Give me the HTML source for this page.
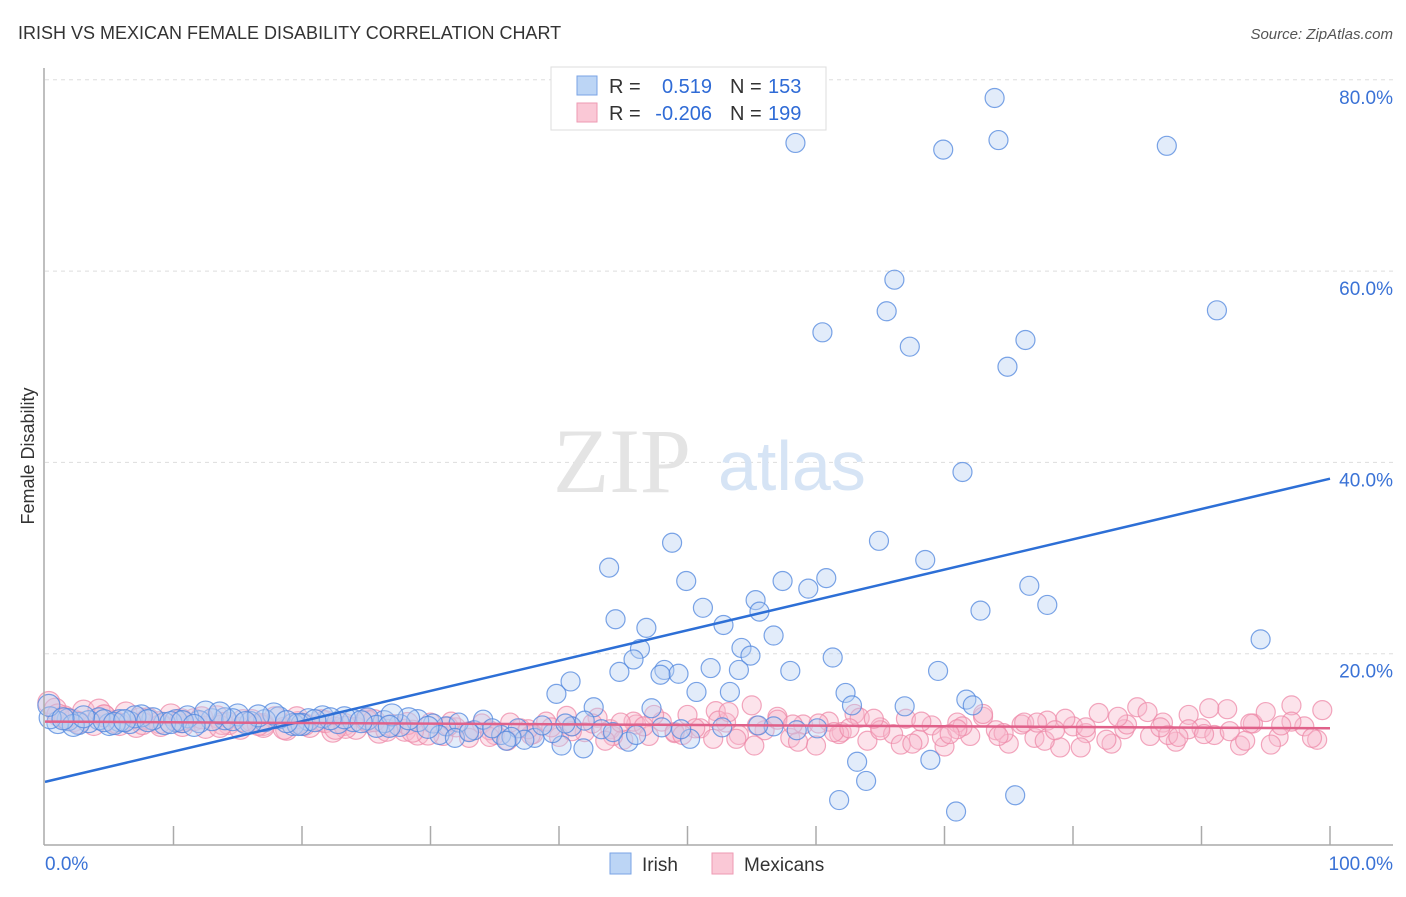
<!DOCTYPE html>
<html><head><meta charset="utf-8"><style>
body{margin:0;background:#fff;font-family:"Liberation Sans",sans-serif}
svg text{font-family:"Liberation Sans",sans-serif}
</style></head><body>
<svg id="c" width="1406" height="892">
<text x="18" y="39" font-size="18" fill="#333">IRISH VS MEXICAN FEMALE DISABILITY CORRELATION CHART</text>
<text x="1393" y="39" font-size="15" fill="#555" text-anchor="end" font-style="italic">Source: ZipAtlas.com</text>
<g id="grid"></g>
<text x="553" y="492" font-size="92" fill="#e4e4e4" style="font-family:'Liberation Serif',serif">ZIP</text>
<text x="718" y="490" font-size="70" fill="#d6e4f5">atlas</text>
<g id="pts"></g>
<g id="axes"></g>
<text x="34" y="456" font-size="18" fill="#333" transform="rotate(-90 34 456)" text-anchor="middle">Female Disability</text>
<g>
<rect x="551" y="67" width="275" height="63" fill="#fff" stroke="#ddd"/>
<rect x="577" y="76" width="20" height="19" fill="#bcd5f5" stroke="#7aa3e5"/>
<rect x="577" y="103" width="20" height="19" fill="#fac8d6" stroke="#ee9ab3"/>
<text x="609" y="93" font-size="20" fill="#333">R = </text><text x="712" y="93" font-size="20" fill="#2f6bd6" text-anchor="end">0.519</text>
<text x="730" y="93" font-size="20" fill="#333">N = </text><text x="768" y="93" font-size="20" fill="#2f6bd6">153</text>
<text x="609" y="120" font-size="20" fill="#333">R = </text><text x="712" y="120" font-size="20" fill="#2f6bd6" text-anchor="end">-0.206</text>
<text x="730" y="120" font-size="20" fill="#333">N = </text><text x="768" y="120" font-size="20" fill="#2f6bd6">199</text>
</g>
<g><rect x="610" y="853" width="21" height="21" fill="#bcd5f5" stroke="#7aa3e5"/><text x="642" y="871" font-size="19" fill="#333">Irish</text></g>
<g><rect x="712" y="853" width="21" height="21" fill="#fac8d6" stroke="#ee9ab3"/><text x="744" y="871" font-size="19" fill="#333">Mexicans</text></g>
</svg>
<script>
const yTicks=[20,40,60,80];
const xTickLabels=["0.0%","100.0%"];
const irishX=[73.9,58.4,69.9,74.2,87.3,66.1,91.2,65.5,60.5,67.3,76.3,74.9,71.4,48.8,64.9,43.9,68.5,49.9,57.4,60.8,59.4,76.6,78.0,72.8,51.2,55.3,55.6,44.4,46.8,52.8,56.7,46.3,54.2,54.9,45.8,61.3,94.6,51.8,54.0,48.2,49.3,47.9,44.7,58.0,69.5,40.9,39.8,50.7,53.3,62.3,62.8,71.7,72.2,66.9,47.2,42.7,63.2,63.9,68.9,61.8,70.9,75.5,41.9,45.4,40.2,50.2,60.1,56.7,52.7,43.3,38.1,39.5,35.5,36.8,33.4,31.2,30.2,29.0,27.6,26.4,25.1,24.0,22.8,21.6,20.5,19.3,18.2,17.1,16.0,15.0,14.0,13.0,12.0,11.1,10.2,9.3,8.4,7.5,6.6,5.8,5.0,4.2,3.4,2.6,1.8,1.0,0.4,0.3,2.2,4.6,7.0,9.8,12.5,14.6,17.8,20.0,23.3,25.8,28.3,30.7,32.2,34.1,37.3,41.0,44.2,48.0,36.3,34.8,42.0,38.7,29.8,27.0,24.6,22.2,19.7,16.6,13.6,10.7,8.0,5.4,3.0,1.4,6.2,11.6,15.6,18.8,21.0,26.8,31.9,33.0,35.9,40.5,46.0,49.5,55.5,58.5];
const irishY=[78.1,73.4,72.7,73.7,73.1,59.1,55.9,55.8,53.6,52.1,52.8,50.0,39.0,31.6,31.8,29.0,29.8,27.6,27.6,27.9,26.8,27.1,25.1,24.5,24.8,25.6,24.4,23.6,22.7,23.0,21.9,20.5,20.6,19.8,19.4,19.6,21.5,18.5,18.3,18.3,17.9,17.8,18.1,18.2,18.2,17.1,15.8,16.0,16.0,15.9,14.6,15.2,14.6,14.5,14.3,14.4,8.7,6.7,8.9,4.7,3.5,5.2,10.1,10.8,10.4,11.1,12.2,12.4,12.3,12.1,11.2,11.7,11.5,12.2,12.0,12.4,12.7,13.0,12.5,12.9,13.2,13.0,12.8,13.4,13.1,12.6,13.3,13.0,12.8,13.6,13.2,13.1,12.9,13.4,13.0,12.7,13.2,13.5,12.8,13.0,12.6,13.2,12.9,12.7,13.1,12.8,13.3,14.6,12.5,13.0,13.4,12.8,13.9,13.1,13.7,12.6,13.3,12.4,13.2,11.5,12.8,13.1,11.0,12.4,11.8,12.3,11.3,12.2,13.0,12.5,12.3,13.6,12.9,13.2,12.6,13.5,13.8,12.9,13.0,12.7,13.4,13.2,13.0,12.5,12.8,12.9,13.0,12.4,11.2,11.8,10.9,12.7,11.5,12.1,12.5,12.0];
const mexX=[0.3,0.8,1.5,2.2,3.0,3.8,4.6,5.4,6.3,7.1,8.0,8.9,9.8,10.7,11.6,12.5,13.4,14.3,15.2,16.1,17.0,17.9,18.8,19.7,20.6,21.5,22.4,23.3,24.2,25.1,26.0,27.0,28.0,29.0,30.0,31.0,32.0,33.0,34.0,35.0,36.0,37.0,38.0,39.0,40.0,41.0,42.0,43.0,44.0,45.0,46.0,47.0,48.0,49.0,50.0,51.0,52.0,53.0,54.0,55.0,56.0,57.0,58.0,59.0,60.0,61.0,62.0,63.0,64.0,65.0,66.0,67.0,68.0,69.0,70.0,71.0,72.0,73.0,74.0,75.0,76.0,77.0,78.0,79.0,80.0,81.0,82.0,83.0,84.0,85.0,86.0,87.0,88.0,89.0,90.0,91.0,92.0,93.0,94.0,95.0,96.0,97.0,98.0,99.0,1.0,2.6,4.2,5.8,7.4,9.0,10.6,12.2,13.8,15.4,17.0,18.6,20.2,21.8,23.4,25.0,26.6,28.2,29.8,31.4,33.0,34.6,36.2,37.8,39.4,41.0,42.6,44.2,45.8,47.4,49.0,50.6,52.2,53.8,55.4,57.0,58.6,60.2,61.8,63.4,65.0,66.6,68.2,69.8,71.4,73.0,74.6,76.2,77.8,79.4,81.0,82.6,84.2,85.8,87.4,89.0,90.6,92.2,93.8,95.4,97.0,98.6,99.4,96.2,93.4,90.2,86.8,83.5,80.6,77.2,74.2,71.0,67.5,64.5,61.4,58.2,55.2,52.4,49.6,46.6,43.6,40.6,37.6,34.6,31.6,28.6,25.6,22.6,19.6,16.6,13.6,10.6,7.6,4.6,1.6,44.8,53.2,62.6,70.4,78.6,88.2];
const mexY=[14.9,14.2,13.4,13.0,14.0,12.6,13.5,12.9,13.8,12.4,13.2,12.8,13.6,12.5,13.1,12.3,13.4,12.7,12.2,13.0,12.6,13.3,12.1,12.8,12.4,13.0,11.9,12.6,12.2,12.9,11.8,12.5,12.0,11.6,12.8,11.4,12.3,11.9,12.7,11.5,10.9,12.2,11.6,12.9,11.3,12.4,11.8,13.3,12.1,11.0,12.6,11.4,12.9,11.7,13.6,12.2,11.1,12.8,11.5,14.6,12.0,13.4,11.2,12.6,10.4,12.9,11.8,13.7,10.9,12.3,11.6,13.2,11.0,12.5,10.3,12.8,11.4,13.4,12.0,10.6,12.6,11.2,13.0,10.2,12.4,11.7,13.8,10.6,12.1,14.4,11.4,12.8,10.8,13.6,12.2,11.5,14.2,10.4,12.7,13.9,11.3,14.6,12.4,11.0,13.6,12.8,14.1,12.6,13.2,12.5,12.9,13.3,12.7,13.0,12.4,12.2,12.6,12.9,12.3,13.1,12.0,12.7,11.6,12.4,11.2,12.0,12.8,11.5,12.3,11.9,12.7,11.4,12.9,13.6,11.8,12.2,14.0,11.1,12.5,13.1,10.8,12.7,11.6,13.3,12.0,10.5,12.9,11.3,12.4,13.7,11.7,12.8,10.9,13.2,12.3,11.0,12.6,13.9,11.5,12.1,14.3,11.9,12.7,10.5,12.9,11.2,14.1,12.5,10.9,11.6,12.3,13.4,10.2,12.8,11.4,12.1,10.6,13.2,11.8,12.6,10.4,13.0,11.5,12.4,10.9,13.5,12.1,11.3,12.9,11.9,13.0,12.2,13.3,12.6,12.4,13.1,12.7,13.5,13.2,12.8,13.9,12.2,11.6,12.0,11.3,12.5];
const fitIrish=[6.6,38.3], fitMex=[12.9,12.2];
const X0=45,X1=1330,Y0=845,YS=9.565;
const sx=v=>X0+(X1-X0)*v/100, sy=v=>Y0-v*YS;
const NS="http://www.w3.org/2000/svg";
function mk(tag,attrs,parent){const e=document.createElementNS(NS,tag);for(const k in attrs)e.setAttribute(k,attrs[k]);parent.appendChild(e);return e;}
const grid=document.getElementById('grid'),axes=document.getElementById('axes'),pts=document.getElementById('pts');
yTicks.forEach(t=>{
 const l=mk('line',{x1:45,x2:1393,y1:sy(t),y2:sy(t),stroke:'#ddd','stroke-dasharray':'4 4'},grid);
 
 
 const tx=mk('text',{x:1393,y:sy(t)+24,'font-size':19,fill:'#3a72d6','text-anchor':'end'},axes);
 tx.textContent=t.toFixed(1)+'%';
 
 
});
mk('line',{x1:44,x2:44,y1:68,y2:845,stroke:'#aaa','stroke-width':1.5},axes);
mk('line',{x1:44,x2:1393,y1:845,y2:845,stroke:'#aaa','stroke-width':1.5},axes);
for(let i=1;i<=10;i++){const t=mk('line',{x1:sx(i*10),x2:sx(i*10),y1:826,y2:845,stroke:'#aaa','stroke-width':1.5},axes);}
const xl0=mk('text',{x:45,y:870,'font-size':19,fill:'#3a72d6'},axes);xl0.textContent=xTickLabels[0];


const xl1=mk('text',{x:1393,y:870,'font-size':19,fill:'#3a72d6','text-anchor':'end'},axes);xl1.textContent=xTickLabels[1];


function series(xs,ys,fill,stroke,name){const n=Math.min(xs.length,ys.length);for(let i=0;i<n;i++){const x=xs[i];const r=x<30?11:9.5;
 const c=mk('circle',{cx:sx(x),cy:sy(ys[i]),r:r,fill:fill,'fill-opacity':0.4,stroke:stroke,'stroke-opacity':0.75,'stroke-width':1.2},pts);
 
 }}
series(mexX,mexY,'#f7b9cc','#ee8aa8','mexican-point');
series(irishX,irishY,'#b6d0f3','#4f86dd','irish-point');
const l1=mk('line',{x1:sx(0),y1:sy(fitIrish[0]),x2:sx(100),y2:sy(fitIrish[1]),stroke:'#2d6fd6','stroke-width':2.5},pts);


const l2=mk('line',{x1:sx(0),y1:sy(fitMex[0]),x2:sx(100),y2:sy(fitMex[1]),stroke:'#e0618a','stroke-width':2.5},pts);


</script>
</body></html>
